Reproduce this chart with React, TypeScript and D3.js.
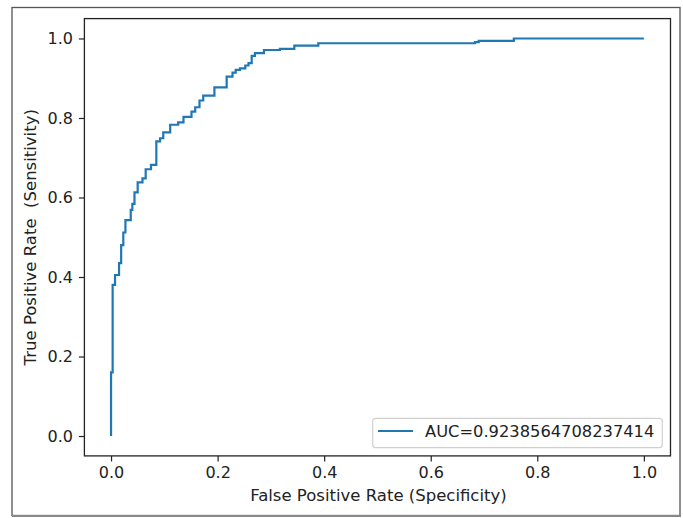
import React, { useEffect, useRef } from 'react';
import * as d3 from 'd3';

// ROC curve corners
const fpr = [
  0, 0, 0.003, 0.003, 0.0075, 0.0075, 0.015, 0.015, 0.019, 0.019, 0.023, 0.023,
  0.027, 0.027, 0.037, 0.037, 0.04, 0.04, 0.044, 0.044, 0.05, 0.05, 0.059, 0.059,
  0.065, 0.065, 0.075, 0.075, 0.085, 0.085, 0.092, 0.092, 0.098, 0.098, 0.111, 0.111,
  0.126, 0.126, 0.136, 0.136, 0.151, 0.151, 0.158, 0.158, 0.166, 0.166, 0.173, 0.173,
  0.194, 0.194, 0.217, 0.217, 0.228, 0.228, 0.234, 0.234, 0.242, 0.242, 0.252, 0.252,
  0.258, 0.258, 0.264, 0.264, 0.27, 0.27, 0.287, 0.287, 0.317, 0.317, 0.344, 0.344,
  0.389, 0.389, 0.683, 0.683, 0.69, 0.69, 0.756, 0.756, 1.0,
];
const tpr = [
  0, 0.16, 0.16, 0.38, 0.38, 0.405, 0.405, 0.435, 0.435, 0.48, 0.48, 0.512,
  0.512, 0.543, 0.543, 0.569, 0.569, 0.584, 0.584, 0.613, 0.613, 0.638, 0.638, 0.648,
  0.648, 0.671, 0.671, 0.682, 0.682, 0.741, 0.741, 0.749, 0.749, 0.764, 0.764, 0.783,
  0.783, 0.789, 0.789, 0.803, 0.803, 0.816, 0.816, 0.827, 0.827, 0.844, 0.844, 0.856,
  0.856, 0.877, 0.877, 0.904, 0.904, 0.914, 0.914, 0.921, 0.921, 0.925, 0.925, 0.932,
  0.932, 0.938, 0.938, 0.956, 0.956, 0.963, 0.963, 0.971, 0.971, 0.974, 0.974, 0.982,
  0.982, 0.988, 0.988, 0.991, 0.991, 0.994, 0.994, 1.0, 1.0,
];
const tickValues = [0, 0.2, 0.4, 0.6, 0.8, 1.0];
const xLabel = 'False Positive Rate (Specificity)';
const yLabel = 'True Positive Rate  (Sensitivity)';
const legendLabel = 'AUC=0.9238564708237414';

const FONT = 'DejaVu Sans, sans-serif';

const App = () => {
  const ref = useRef<SVGSVGElement>(null);

  useEffect(() => {
    const svg = d3.select(ref.current);
    svg.selectAll('*').remove();

    const W = 683, H = 518;
    const left = 84.4, right = 670.5, top = 18.6, bottom = 455.9;

    // outer frame of the figure
    svg.append('rect')
      .attr('x', 12).attr('y', 7.5)
      .attr('width', 668).attr('height', 508)
      .attr('fill', 'white')
      .attr('stroke', '#555').attr('stroke-width', 1.3);
    svg.append('line')
      .attr('x1', 12).attr('x2', 681).attr('y1', 516).attr('y2', 516)
      .attr('stroke', '#888').attr('stroke-width', 2);

    const x = d3.scaleLinear().domain([-0.05, 1.05]).range([left, right]);
    const y = d3.scaleLinear().domain([-0.05, 1.05]).range([bottom, top]);

    const xAxis = svg.append('g')
      .attr('transform', `translate(0,${bottom})`)
      .call(d3.axisBottom(x).tickValues(tickValues).tickFormat(d3.format('.1f'))
        .tickSize(5.5).tickPadding(5));
    const yAxis = svg.append('g')
      .attr('transform', `translate(${left},0)`)
      .call(d3.axisLeft(y).tickValues(tickValues).tickFormat(d3.format('.1f'))
        .tickSize(5.5).tickPadding(6));

    [xAxis, yAxis].forEach(g => {
      g.select('.domain').remove();
      g.selectAll('line').attr('stroke', '#222').attr('stroke-width', 1.2);
      g.selectAll('text')
        .attr('font-family', FONT).attr('font-size', 16).attr('fill', '#222');
    });

    const line = d3.line<number>()
      .x((_, i) => x(fpr[i]))
      .y((_, i) => y(tpr[i]));

    svg.append('path')
      .datum(d3.range(fpr.length))
      .attr('d', line)
      .attr('fill', 'none')
      .attr('stroke', '#1f77b4')
      .attr('stroke-width', 2.2)
      .attr('stroke-linejoin', 'miter');

    // spines
    svg.append('rect')
      .attr('x', left).attr('y', top)
      .attr('width', right - left).attr('height', bottom - top)
      .attr('fill', 'none')
      .attr('stroke', '#222').attr('stroke-width', 1.3);

    svg.append('text')
      .attr('x', (left + right) / 2 + 1).attr('y', 500.5)
      .attr('text-anchor', 'middle')
      .attr('font-family', FONT).attr('font-size', 16.5).attr('fill', '#222')
      .text(xLabel);

    svg.append('text')
      .attr('transform', `translate(36,${(top + bottom) / 2}) rotate(-90)`)
      .attr('text-anchor', 'middle')
      .attr('font-family', FONT).attr('font-size', 16.5).attr('fill', '#222')
      .style('white-space', 'pre')
      .text(yLabel);

    // legend
    const lg = svg.append('g');
    lg.append('rect')
      .attr('x', 372.7).attr('y', 418.3)
      .attr('width', 289.6).attr('height', 29.4)
      .attr('rx', 3)
      .attr('fill', 'white').attr('fill-opacity', 0.8)
      .attr('stroke', '#d0d0d0').attr('stroke-width', 1.2);
    lg.append('line')
      .attr('x1', 378).attr('x2', 413).attr('y1', 431).attr('y2', 431)
      .attr('stroke', '#1f77b4').attr('stroke-width', 2.2);
    lg.append('text')
      .attr('x', 425).attr('y', 437)
      .attr('font-family', FONT).attr('font-size', 16.3).attr('fill', '#222')
      .text(legendLabel);

    svg.attr('width', W).attr('height', H);
  }, []);

  return (
    <svg ref={ref} width={683} height={518}
      style={{ position: 'absolute', left: 0, top: 0, background: 'white' }} />
  );
};

export default App;
